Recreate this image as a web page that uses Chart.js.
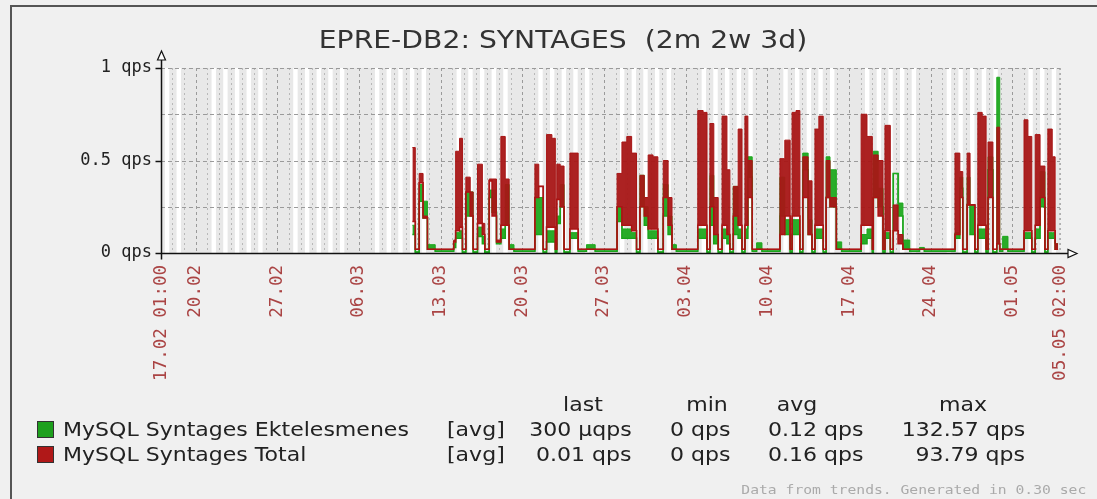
<!DOCTYPE html>
<html>
<head>
<meta charset="utf-8">
<script src="https://cdn.jsdelivr.net/npm/chart.js@4.4.1/dist/chart.umd.min.js"></script>
<style>
  html, body { margin: 0; padding: 0; background: #f0f0f0; }
  #wrap { position: relative; width: 1097px; height: 499px; overflow: hidden; background: #f0f0f0; }
  #frame { position: absolute; left: 10px; top: 5px; width: 2000px; height: 2000px;
           border-left: 2px solid #555; border-top: 2px solid #555; }
  canvas { position: absolute; left: 0; top: 0; }
  .t { position: absolute; font-family: 'DejaVu Sans'; font-size: 19.5px; color: #222;
       white-space: pre; line-height: 20px; }
  .l { transform-origin: left center; transform: scaleX(1.13); }
  .r { transform-origin: right center; transform: scaleX(1.13); text-align: right; }
  .c { transform: translateX(-50%) scaleX(1.13); }
  #title { font-size: 25px; color: #333; line-height: 30px; }
  .sw { position: absolute; width: 15px; height: 15px; border: 1px solid #333; }
  #foot { position: absolute; right: 11px; top: 482px; font-family: 'DejaVu Sans Mono'; font-size: 13px;
          color: #aaa; white-space: pre; transform-origin: right center; transform: scaleX(1.13); }
</style>
</head>
<body>
<div id="wrap">
  <div id="frame"></div>
  <canvas id="graph" width="1097" height="499"></canvas>
  <div class="t c" id="title" style="left:563px; top:25px;">EPRE-DB2: SYNTAGES  (2m 2w 3d)</div>

  <div class="t c" style="left:583px; top:395px;">last</div>
  <div class="t c" style="left:707px; top:395px;">min</div>
  <div class="t c" style="left:797px; top:395px;">avg</div>
  <div class="t c" style="left:963px; top:395px;">max</div>

  <div class="sw" style="left:37px; top:421px; background:#1ea01e;"></div>
  <div class="t l" style="left:63px; top:420px;">MySQL Syntages Ektelesmenes</div>
  <div class="t l" style="left:447px; top:420px;">[avg]</div>
  <div class="t r" style="right:465px; top:420px;">300 µqps</div>
  <div class="t r" style="right:366px; top:420px;">0 qps</div>
  <div class="t r" style="right:233px; top:420px;">0.12 qps</div>
  <div class="t r" style="right:72px; top:420px;">132.57 qps</div>

  <div class="sw" style="left:37px; top:446px; background:#b01818;"></div>
  <div class="t l" style="left:63px; top:445px;">MySQL Syntages Total</div>
  <div class="t l" style="left:447px; top:445px;">[avg]</div>
  <div class="t r" style="right:465px; top:445px;">0.01 qps</div>
  <div class="t r" style="right:366px; top:445px;">0 qps</div>
  <div class="t r" style="right:233px; top:445px;">0.16 qps</div>
  <div class="t r" style="right:72px; top:445px;">93.79 qps</div>

  <div id="foot">Data from trends. Generated in 0.30 sec</div>
</div>
<script>
// time axis in hours since 17.02 01:00 (end 05.05 02:00 = 1849 h)
const startHour = 0;
const endHour = 1849;
const tickHours = [0, 71, 239, 407, 575, 743, 911, 1079, 1247, 1415, 1583, 1751, 1849];
const tickLabels = ['17.02 01:00', '20.02', '27.02', '06.03', '13.03', '20.03', '27.03',
                    '03.04', '10.04', '17.04', '24.04', '01.05', '05.05 02:00'];
const yTicks = [0, 0.5, 1];
const yTickLabels = ['0 qps', '0.5 qps', '1 qps'];

// step start times (hours) and values (qps)
const stepHours = [517, 523, 531, 539, 548, 564, 602, 606, 614, 620, 627, 636, 642, 651, 661, 666,
  675, 681, 690, 699, 708, 716, 726, 769, 777, 786, 793, 804, 811, 814, 821, 829, 841, 858, 875, 893,
  938, 948, 958, 968, 978, 985, 994, 1002, 1012, 1022, 1033, 1043, 1051, 1060,
  1104, 1115, 1123, 1129, 1137, 1146, 1154, 1164, 1170, 1177, 1187, 1195, 1201, 1207, 1216, 1225, 1236,
  1273, 1283, 1294, 1298, 1306, 1314, 1320, 1331, 1339, 1345, 1353, 1362, 1368, 1376, 1389, 1400,
  1440, 1452, 1463, 1465, 1475, 1485, 1489, 1500, 1506, 1516, 1526, 1540, 1560, 1570,
  1633, 1643, 1649, 1658, 1664, 1674, 1680, 1689, 1697, 1701, 1711, 1719, 1725, 1731, 1742,
  1775, 1783, 1791, 1798, 1808, 1818, 1824, 1833, 1839, 1845];
const totalAvg = [0.17, 0.02, 0.38, 0.19, 0.02, 0.02, 0.06, 0.12, 0.14, 0.02, 0.33, 0.20, 0.02, 0.16, 0.10, 0.02,
  0.39, 0.20, 0.06, 0.15, 0.15, 0.02, 0.02, 0.30, 0.36, 0.02, 0.14, 0.14, 0.02, 0.29, 0.25, 0.02, 0.13, 0.02, 0.02, 0.02,
  0.25, 0.15, 0.15, 0.12, 0.02, 0.25, 0.20, 0.13, 0.13, 0.02, 0.30, 0.15, 0.02, 0.02,
  0.15, 0.15, 0.02, 0.25, 0.10, 0.02, 0.15, 0.10, 0.02, 0.20, 0.15, 0.02, 0.15, 0.30, 0.02, 0.02, 0.02,
  0.10, 0.20, 0.02, 0.20, 0.20, 0.02, 0.30, 0.10, 0.02, 0.15, 0.15, 0.02, 0.30, 0.25, 0.02, 0.02,
  0.15, 0.15, 0.02, 0.30, 0.20, 0.02, 0.12, 0.02, 0.12, 0.05, 0.02, 0.02, 0.02, 0.02,
  0.10, 0.30, 0.02, 0.26, 0.26, 0.02, 0.15, 0.15, 0.02, 0.30, 0.02, 0.05, 0.02, 0.02, 0.02,
  0.12, 0.12, 0.02, 0.15, 0.30, 0.02, 0.12, 0.12, 0.02, 0.02];
const totalMax = [0.57, 0.02, 0.43, 0.20, 0.02, 0.02, 0.07, 0.55, 0.62, 0.02, 0.41, 0.33, 0.02, 0.48, 0.16, 0.02,
  0.40, 0.40, 0.07, 0.63, 0.40, 0.02, 0.02, 0.48, 0.36, 0.02, 0.64, 0.62, 0.02, 0.48, 0.47, 0.02, 0.54, 0.02, 0.02, 0.02,
  0.43, 0.60, 0.63, 0.54, 0.02, 0.42, 0.30, 0.53, 0.52, 0.02, 0.50, 0.30, 0.02, 0.02,
  0.77, 0.76, 0.02, 0.70, 0.30, 0.02, 0.74, 0.45, 0.02, 0.36, 0.67, 0.02, 0.74, 0.50, 0.02, 0.02, 0.02,
  0.51, 0.61, 0.02, 0.76, 0.77, 0.02, 0.52, 0.39, 0.02, 0.67, 0.74, 0.02, 0.50, 0.30, 0.02, 0.02,
  0.75, 0.63, 0.02, 0.53, 0.50, 0.02, 0.69, 0.02, 0.26, 0.10, 0.02, 0.02, 0.02, 0.02,
  0.54, 0.44, 0.02, 0.54, 0.26, 0.02, 0.76, 0.74, 0.02, 0.60, 0.02, 0.68, 0.02, 0.02, 0.02,
  0.72, 0.63, 0.02, 0.64, 0.47, 0.02, 0.67, 0.52, 0.05, 0.05];
const execAvg = [0.10, 0.005, 0.28, 0.19, 0.02, 0.01, 0.03, 0.08, 0.08, 0.005, 0.20, 0.20, 0.005, 0.09, 0.05, 0.005,
  0.30, 0.22, 0.05, 0.08, 0.15, 0.02, 0.01, 0.10, 0.10, 0.005, 0.06, 0.06, 0.005, 0.16, 0.25, 0.005, 0.08, 0.01, 0.02, 0.01,
  0.17, 0.08, 0.08, 0.08, 0.005, 0.25, 0.15, 0.08, 0.08, 0.005, 0.20, 0.10, 0.02, 0.01,
  0.08, 0.08, 0.005, 0.15, 0.05, 0.005, 0.08, 0.05, 0.005, 0.10, 0.08, 0.005, 0.08, 0.41, 0.01, 0.02, 0.01,
  0.20, 0.10, 0.005, 0.10, 0.10, 0.005, 0.45, 0.10, 0.005, 0.08, 0.08, 0.005, 0.30, 0.25, 0.02, 0.01,
  0.05, 0.08, 0.005, 0.30, 0.25, 0.005, 0.08, 0.005, 0.43, 0.20, 0.02, 0.01, 0.02, 0.01,
  0.08, 0.35, 0.005, 0.26, 0.10, 0.005, 0.08, 0.08, 0.005, 0.45, 0.005, 0.05, 0.01, 0.02, 0.01,
  0.08, 0.08, 0.005, 0.08, 0.25, 0.005, 0.08, 0.08, 0.02, 0.02];
const execMax = [0.15, 0.005, 0.37, 0.28, 0.045, 0.01, 0.05, 0.11, 0.12, 0.005, 0.33, 0.33, 0.005, 0.14, 0.09, 0.005,
  0.34, 0.34, 0.06, 0.13, 0.37, 0.045, 0.01, 0.30, 0.30, 0.005, 0.12, 0.12, 0.005, 0.20, 0.37, 0.005, 0.11, 0.01, 0.045, 0.01,
  0.25, 0.13, 0.13, 0.11, 0.005, 0.42, 0.25, 0.12, 0.12, 0.005, 0.37, 0.20, 0.045, 0.01,
  0.13, 0.13, 0.005, 0.42, 0.10, 0.005, 0.13, 0.10, 0.005, 0.36, 0.13, 0.005, 0.13, 0.52, 0.01, 0.055, 0.01,
  0.41, 0.18, 0.005, 0.18, 0.18, 0.005, 0.54, 0.18, 0.005, 0.13, 0.13, 0.005, 0.52, 0.45, 0.06, 0.01,
  0.10, 0.13, 0.005, 0.55, 0.35, 0.005, 0.11, 0.005, 0.43, 0.27, 0.07, 0.01, 0.03, 0.01,
  0.11, 0.41, 0.005, 0.41, 0.26, 0.005, 0.13, 0.13, 0.005, 0.52, 0.005, 0.95, 0.01, 0.09, 0.01,
  0.11, 0.11, 0.005, 0.13, 0.44, 0.005, 0.11, 0.11, 0.05, 0.05];

const GREEN = '#1ea81e';
const RED = '#a81616';

function points(values) {
    return stepHours.map((h, i) => ({ x: h, y: values[i] }));
}

// Zabbix-like background: working time stripes, day/week grid, value grid
const zbxBackground = {
    id: 'zbxBackground',
    beforeDatasetsDraw(chart) {
        const { ctx, chartArea: a, scales: { x, y } } = chart;
        ctx.save();
        ctx.fillStyle = '#e8e8e8';
        ctx.fillRect(a.left, a.top, a.right - a.left, a.bottom - a.top);

        // 17.02 was a Thursday; working time Mon-Fri 09:00-18:00
        ctx.fillStyle = '#ffffff';
        for (let k = 0; k <= 77; k++) {
            const wd = (4 + k) % 7;
            if (wd < 1 || wd > 5) continue;
            const h0 = Math.max(startHour, k * 24 - 1 + 9);
            const h1 = Math.min(endHour, k * 24 - 1 + 18);
            if (h1 <= h0) continue;
            const x0 = x.getPixelForValue(h0), x1 = x.getPixelForValue(h1);
            ctx.fillRect(x0, a.top, x1 - x0, a.bottom - a.top);
        }

        ctx.lineWidth = 1;
        for (let k = 1; k <= 77; k++) {
            const h = k * 24 - 1;
            const px = Math.round(x.getPixelForValue(h)) + 0.5;
            const sunday = (4 + k) % 7 === 0;
            ctx.strokeStyle = sunday ? '#9a9a9a' : '#b8b8b8';
            ctx.setLineDash(sunday ? [3, 3] : [2, 3]);
            ctx.beginPath();
            ctx.moveTo(px, a.top);
            ctx.lineTo(px, a.bottom);
            ctx.stroke();
        }
        // right edge
        ctx.strokeStyle = '#b0b0b0';
        ctx.setLineDash([2, 3]);
        ctx.beginPath();
        ctx.moveTo(Math.round(a.right) + 0.5, a.top);
        ctx.lineTo(Math.round(a.right) + 0.5, a.bottom);
        ctx.stroke();

        ctx.strokeStyle = '#9a9a9a';
        ctx.setLineDash([4, 3]);
        [0.25, 0.5, 0.75, 1].forEach(v => {
            const py = Math.round(y.getPixelForValue(v)) + 0.5;
            ctx.beginPath();
            ctx.moveTo(a.left, py);
            ctx.lineTo(a.right, py);
            ctx.stroke();
        });
        ctx.restore();
    },
    afterDatasetsDraw(chart) {
        const { ctx, chartArea: a } = chart;
        const ax = Math.round(a.left) + 0.5;
        const ay = Math.round(a.bottom) + 0.5;
        ctx.save();
        ctx.strokeStyle = '#111';
        ctx.lineWidth = 1.5;
        ctx.setLineDash([]);
        ctx.beginPath();
        ctx.moveTo(ax, ay + 6);
        ctx.lineTo(ax, a.top - 10);
        ctx.moveTo(ax - 6, ay);
        ctx.lineTo(a.right + 9, ay);
        // y tick marks
        [a.top, (a.top + a.bottom) / 2, a.bottom].forEach(py => {
            ctx.moveTo(ax - 6, Math.round(py) + 0.5);
            ctx.lineTo(ax, Math.round(py) + 0.5);
        });
        ctx.stroke();
        // arrows
        ctx.lineWidth = 1.2;
        ctx.fillStyle = '#fff';
        ctx.beginPath();
        ctx.moveTo(ax, a.top - 17);
        ctx.lineTo(ax - 4, a.top - 8);
        ctx.lineTo(ax + 4, a.top - 8);
        ctx.closePath();
        ctx.fill();
        ctx.stroke();
        ctx.beginPath();
        ctx.moveTo(a.right + 17, ay);
        ctx.lineTo(a.right + 8, ay - 4);
        ctx.lineTo(a.right + 8, ay + 4);
        ctx.closePath();
        ctx.fill();
        ctx.stroke();
        ctx.restore();
    }
};

const ctx = document.getElementById('graph');
new Chart(ctx, {
    type: 'line',
    data: {
        datasets: [
            { label: 'Total max', data: points(totalMax), stepped: true, fill: '+1',
              borderColor: RED, backgroundColor: 'rgba(168,22,22,0.95)', borderWidth: 1, pointRadius: 0 },
            { label: 'MySQL Syntages Total', data: points(totalAvg), stepped: true, fill: false,
              borderColor: '#b01010', borderWidth: 1.6, pointRadius: 0 },
            { label: 'Ektelesmenes max', data: points(execMax), stepped: true, fill: '+1',
              borderColor: GREEN, backgroundColor: 'rgba(30,168,30,0.95)', borderWidth: 1, pointRadius: 0 },
            { label: 'MySQL Syntages Ektelesmenes', data: points(execAvg), stepped: true, fill: false,
              borderColor: '#18a018', borderWidth: 1.6, pointRadius: 0 }
        ]
    },
    options: {
        responsive: false,
        animation: false,
        devicePixelRatio: 1,
        layout: { padding: { left: 0, right: 37, top: 68, bottom: 0 } },
        plugins: { legend: { display: false }, tooltip: { enabled: false }, title: { display: false } },
        scales: {
            x: {
                type: 'linear',
                min: startHour,
                max: endHour,
                afterFit(scale) { scale.height = 246; },
                afterBuildTicks(scale) { scale.ticks = tickHours.map(v => ({ value: v })); },
                grid: { display: false, drawTicks: false },
                border: { display: false },
                ticks: {
                    autoSkip: false,
                    minRotation: 90,
                    maxRotation: 90,
                    padding: 12,
                    color: '#aa4444',
                    font: { family: 'DejaVu Sans Mono', size: 17.5 },
                    callback(value) {
                        const i = tickHours.indexOf(value);
                        return i >= 0 ? tickLabels[i] : '';
                    }
                }
            },
            y: {
                min: 0,
                max: 1,
                afterFit(scale) { scale.width = 161; },
                afterBuildTicks(scale) { scale.ticks = yTicks.map(v => ({ value: v })); },
                grid: { display: false, drawTicks: false },
                border: { display: false },
                ticks: {
                    padding: 9,
                    color: '#222',
                    font: { family: 'DejaVu Sans Mono', size: 17 },
                    callback(value) {
                        const i = yTicks.indexOf(value);
                        return i >= 0 ? yTickLabels[i] : '';
                    }
                }
            }
        }
    },
    plugins: [zbxBackground]
});
</script>
</body>
</html>
